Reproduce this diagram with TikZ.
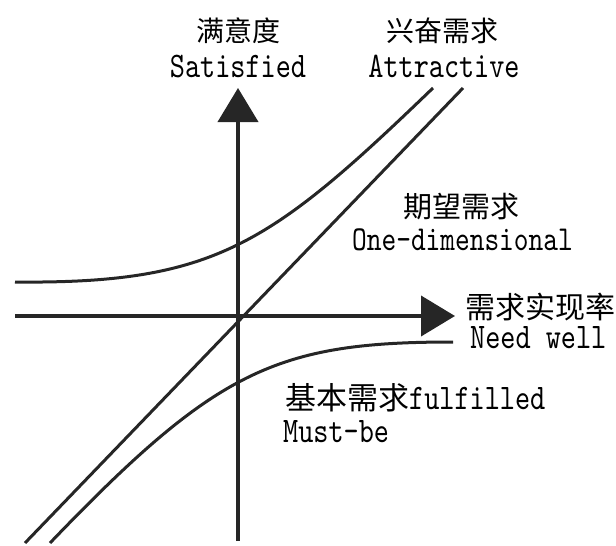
\documentclass[tikz,border=0pt]{standalone}
\usepackage{fontspec}
\usetikzlibrary{arrows.meta}
\newfontfamily\cjk{Noto Sans CJK SC}
\newfontfamily\lat{lmmono10-regular.otf}[FakeStretch=0.8]
\tikzset{
  axisline/.style={line width=4pt, draw=black!85, -{Triangle[width=40pt,length=34pt]}},
  curveline/.style={line width=3pt, draw=black!85},
  cjklabel/.style={inner sep=0pt, font=\cjk\fontsize{#1}{#1}\selectfont},
  latlabel/.style={inner sep=0pt, font=\lat\fontsize{#1}{#1}\selectfont},
}
\begin{document}
\begin{tikzpicture}[x=1pt,y=-1pt]
\useasboundingbox (0,0) rectangle (616,546);
% key points
\coordinate (ybot) at (238,541);
\coordinate (ytop) at (238,88);
\coordinate (xleft) at (15,316);
\coordinate (xright) at (455,316);
\coordinate (sA) at (25,543);
\coordinate (sB) at (463,88);
\coordinate (aA) at (15,282);
\coordinate (aB) at (433,88);
\coordinate (mA) at (50,543);
\coordinate (mB) at (453,342);
% axes
\draw[axisline] (ybot) -- (ytop);
\draw[axisline] (xleft) -- (xright);
% one-dimensional line
\draw[curveline] (sA) -- (sB);
% attractive curve
\draw[curveline] (aA) .. controls (215,284) and (270,245) .. (aB);
% must-be curve
\draw[curveline] (mA) .. controls (216,370) and (276,342) .. (mB);
% labels
\node[cjklabel=28] (t1) at (238,31) {满意度};
\node[latlabel=36, anchor=base] (t2) at (238,77) {Satisfied};
\node[cjklabel=28] (t3) at (442,31) {兴奋需求};
\node[latlabel=36, anchor=base] (t4) at (444,77) {Attractive};
\node[cjklabel=29] (t5) at (461,207) {期望需求};
\node[latlabel=35, anchor=base west] (t6) at (352,250) {One-dimensional};
\node[cjklabel=30, anchor=west] (t7) at (465,307) {需求实现率};
\node[latlabel=36, anchor=base west] (t8) at (470,348) {Need well};
\node[anchor=base west, inner sep=0pt] (t9) at (285,409) {{\cjk\fontsize{31}{31}\selectfont 基本需求}{\lat\fontsize{36}{36}\selectfont fulfilled}};
\node[latlabel=36, anchor=base west] (t10) at (283,442) {Must-be};
\end{tikzpicture}
\end{document}
